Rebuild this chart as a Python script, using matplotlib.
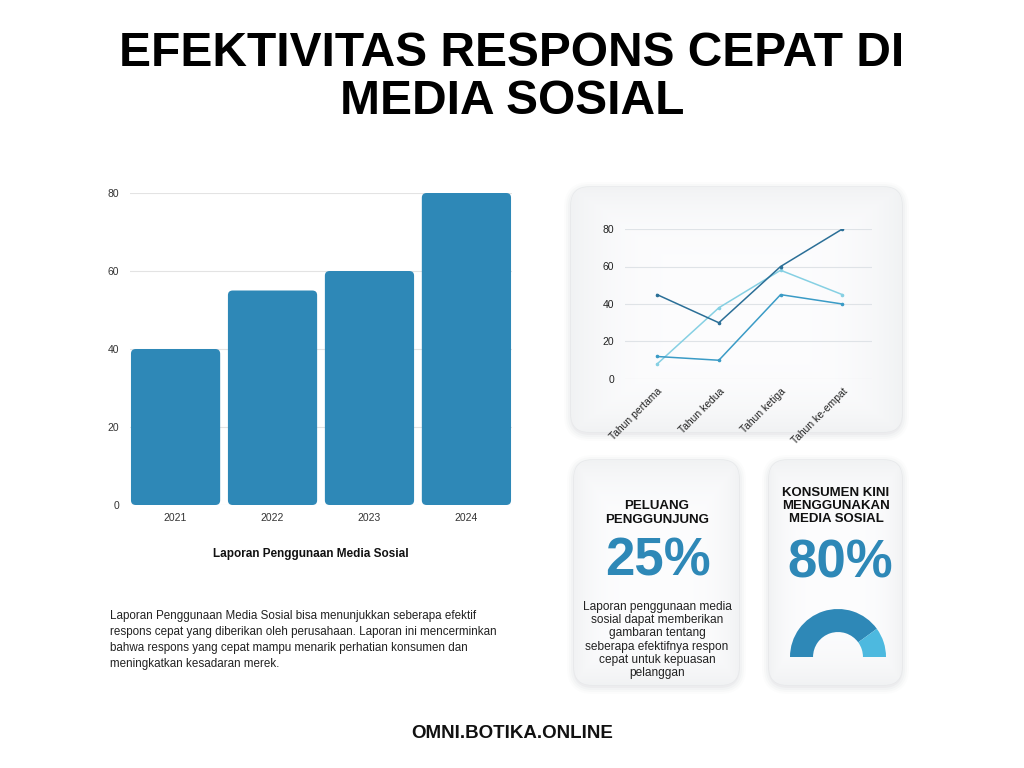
import numpy as np
import matplotlib.pyplot as plt
from matplotlib.patches import FancyBboxPatch

plt.rcParams['font.family'] = ['Liberation Sans', 'DejaVu Sans']

# data
bar_years = ['2021', '2022', '2023', '2024']
bar_values = [40, 55, 60, 80]

line_labels = ['Tahun pertama', 'Tahun kedua', 'Tahun ketiga', 'Tahun ke-empat']
line_dark = [45, 30, 60, 80]
line_light = [8, 38, 58, 45]
line_mid = [12, 10, 45, 40]

gauge_values = [80, 20]

BLUE = '#2e88b7'
W, H = 1024, 768

fig = plt.figure(figsize=(10.24, 7.68), dpi=100, facecolor='white')


def px_axes(x0, y0, x1, y1, **kw):
    # pixel box (top-left origin) -> figure axes
    return fig.add_axes([x0 / W, 1 - y1 / H, (x1 - x0) / W, (y1 - y0) / H], **kw)


# background layer for cards and text
bg = fig.add_axes([0, 0, 1, 1])
bg.set_xlim(0, W)
bg.set_ylim(H, 0)
bg.axis('off')


def card(x0, y0, x1, y1, r=18):
    # soft shadow
    for i, a in enumerate([0.05, 0.04, 0.03, 0.02]):
        s = 2 + i * 2
        bg.add_patch(FancyBboxPatch((x0 - s + 1, y0 - s + 3), x1 - x0 + 2 * s - 2, y1 - y0 + 2 * s - 2,
                                    boxstyle=f"round,pad=0,rounding_size={r + s}",
                                    facecolor='#7a8590', edgecolor='none', alpha=a))
    box = FancyBboxPatch((x0, y0), x1 - x0, y1 - y0,
                         boxstyle=f"round,pad=0,rounding_size={r}",
                         facecolor='#f3f4f5', edgecolor='#e6e8ea', linewidth=0.8)
    bg.add_patch(box)
    # light centre gradient
    u = np.linspace(-1, 1, 200)
    xx, yy = np.meshgrid(u, u)
    d = np.clip(np.maximum(np.abs(xx), np.abs(yy)) ** 4, 0, 1)
    img = np.ones((200, 200, 4))
    img[..., :3] = np.array([0.99, 0.99, 0.995]) * (1 - d[..., None]) + np.array([0.945, 0.95, 0.955]) * d[..., None]
    im = bg.imshow(img, extent=(x0, x1, y1, y0), aspect='auto', zorder=1.5, interpolation='bilinear')
    im.set_clip_path(box)


card(571, 187, 902, 432)
card(574, 460, 739, 685)
card(769, 460, 902, 685)
bg.set_xlim(0, W)
bg.set_ylim(H, 0)

# title
bg.text(512, 53, "EFEKTIVITAS RESPONS CEPAT DI", ha='center', va='center',
        fontsize=34.5, fontweight='bold', color='black')
bg.text(512, 101, "MEDIA SOSIAL", ha='center', va='center',
        fontsize=34.5, fontweight='bold', color='black')

# bar chart
ax = px_axes(130, 193, 512, 505)
bars = ax.bar(range(len(bar_values)), bar_values, width=0.92, color=BLUE, zorder=2)
ax.set_xlim(-0.47, 3.47)
ax.set_ylim(0, 80)
# rounded bar tops
for b in bars:
    bx, by = b.get_x(), b.get_y()
    bw, bh = b.get_width(), b.get_height()
    b.set_visible(False)
    ax.add_patch(FancyBboxPatch((bx, by), bw, bh, boxstyle="round,pad=0,rounding_size=0.05",
                                mutation_aspect=24, facecolor=BLUE, edgecolor='none', zorder=2))
ax.set_yticks([0, 20, 40, 60, 80])
ax.set_xticks(range(len(bar_years)))
ax.set_xticklabels(bar_years)
ax.grid(axis='y', color='#e3e3e3', linewidth=0.8, zorder=0)
for s in ax.spines.values():
    s.set_visible(False)
ax.tick_params(length=0, labelsize=7.5, colors='#333333', pad=6)
ax.tick_params(axis='y', pad=8)
ax.set_facecolor('none')

bg.text(311, 554, "Laporan Penggunaan Media Sosial", ha='center', va='center',
        fontsize=8.5, fontweight='bold', color='#111111')

bg.text(110, 640, "Laporan Penggunaan Media Sosial bisa menunjukkan seberapa efektif\n"
        "respons cepat yang diberikan oleh perusahaan. Laporan ini mencerminkan\n"
        "bahwa respons yang cepat mampu menarik perhatian konsumen dan\n"
        "meningkatkan kesadaran merek.", ha='left', va='center',
        fontsize=8.4, color='#222222', linespacing=1.45)

# line chart
lx = px_axes(625, 229, 872, 379)
xs = np.arange(len(line_labels))
lx.plot(xs, line_light, color='#86d0e3', linewidth=1.1, marker='o', markersize=1.6)
lx.plot(xs, line_mid, color='#3a9bc6', linewidth=1.1, marker='o', markersize=1.6)
lx.plot(xs, line_dark, color='#2b6f97', linewidth=1.1, marker='o', markersize=1.6)
lx.set_xlim(-0.52, 3.48)
lx.set_ylim(0, 80)
lx.set_yticks([0, 20, 40, 60, 80])
lx.set_xticks(xs)
lx.set_xticklabels(line_labels, rotation=45, ha='right', rotation_mode='anchor')
lx.grid(axis='y', color='#dfe3e7', linewidth=0.8)
for s in lx.spines.values():
    s.set_visible(False)
lx.tick_params(length=0, labelsize=7.5, colors='#222222', pad=8)
lx.tick_params(axis='x', pad=5)
lx.set_facecolor('none')

# card 2
bg.text(657, 513, "PELUANG\nPENGGUNJUNG", ha='center', va='center', fontsize=9.5,
        fontweight='bold', color='#111111', linespacing=1.25)
bg.text(658, 561, "25%", ha='center', va='center', fontsize=38, fontweight='bold', color=BLUE)
bg.text(657, 640, "Laporan penggunaan media\nsosial dapat memberikan\ngambaran tentang\n"
        "seberapa efektifnya respon\ncepat untuk kepuasan\npelanggan", ha='center', va='center',
        fontsize=8.6, color='#222222', linespacing=1.13)

# card 3
bg.text(836, 506, "KONSUMEN KINI\nMENGGUNAKAN\nMEDIA SOSIAL", ha='center', va='center', fontsize=9.5,
        fontweight='bold', color='#111111', linespacing=1.15)
bg.text(840, 563, "80%", ha='center', va='center', fontsize=38, fontweight='bold', color=BLUE)

gx = px_axes(838 - 48, 657 - 48, 838 + 48, 657 + 48)
gx.pie(gauge_values + [sum(gauge_values)], startangle=180, counterclock=False, radius=1,
       colors=[BLUE, '#4db9df', 'none'],
       wedgeprops=dict(width=0.48, edgecolor='none'))
gx.set_xlim(-1, 1)
gx.set_ylim(-1, 1)
gx.set_aspect('equal')
gx.axis('off')

bg.text(512, 734, "OMNI.BOTIKA.ONLINE", ha='center', va='center', fontsize=13.5,
        fontweight='bold', color='#111111')

fig.savefig('out.png', dpi=100, facecolor='white')
